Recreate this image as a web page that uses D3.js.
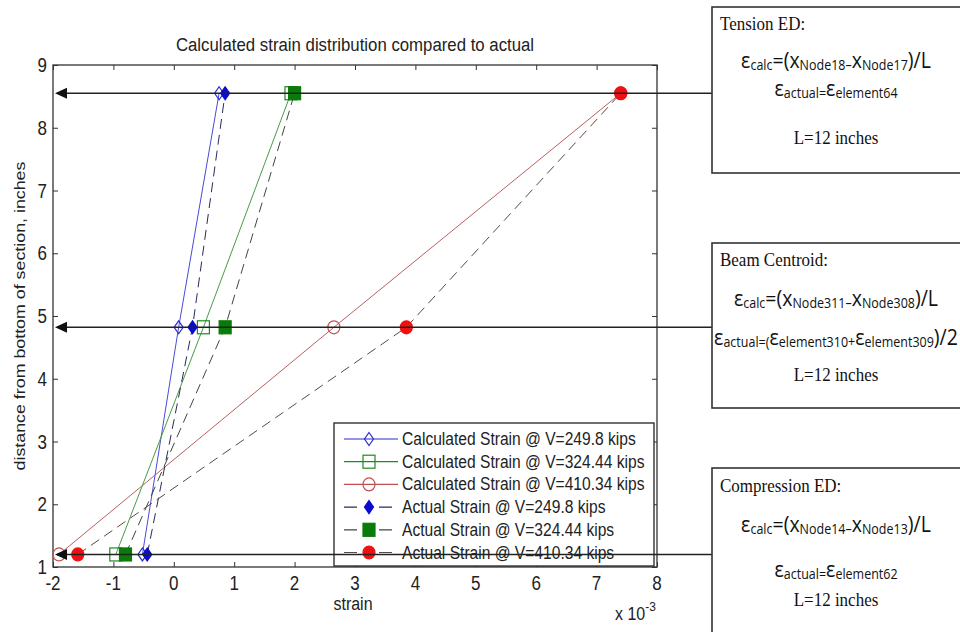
<!DOCTYPE html>
<html>
<head>
<meta charset="utf-8">
<script src="https://cdn.jsdelivr.net/npm/d3@7"></script>
<style>
  body { margin: 0; background: #fff; }
  svg { display: block; }
</style>
</head>
<body>
<div id="chart"></div>
<script>
// heights of the three gauge lines (inches from bottom of section)
var heights = [1.2, 4.82, 8.55];

// strain values, x 10^-3
var calc249 = [-0.52, 0.08, 0.75];
var calc324 = [-0.96, 0.49, 1.94];
var calc410 = [-1.9, 2.65, 7.40];
var act249 = [-0.44, 0.31, 0.85];
var act324 = [-0.80, 0.85, 2.00];
var act410 = [-1.59, 3.85, 7.40];

var seriesNames = [
  "Calculated Strain @ V=249.8 kips",
  "Calculated Strain @ V=324.44 kips",
  "Calculated Strain @ V=410.34 kips",
  "Actual Strain @ V=249.8 kips",
  "Actual Strain @ V=324.44 kips",
  "Actual Strain @ V=410.34 kips"
];

var xTicks = [-2, -1, 0, 1, 2, 3, 4, 5, 6, 7, 8];
var yTicks = [1, 2, 3, 4, 5, 6, 7, 8, 9];

var series = [
  {name: seriesNames[0], vals: calc249, color: "#2b2bd0", lineColor: "#4a4ad6", dash: null, shape: "diamond", filled: false},
  {name: seriesNames[1], vals: calc324, color: "#1f8a1f", lineColor: "#4a9a4a", dash: null, shape: "square", filled: false},
  {name: seriesNames[2], vals: calc410, color: "#c05050", lineColor: "#b86060", dash: null, shape: "circle", filled: false},
  {name: seriesNames[3], vals: act249, color: "#0a0ad0", lineColor: "#2a2a5a", dash: "10,6", shape: "diamond", filled: true},
  {name: seriesNames[4], vals: act324, color: "#0a7a0a", lineColor: "#3a4a3a", dash: "10,6", shape: "square", filled: true},
  {name: seriesNames[5], vals: act410, color: "#ee1111", lineColor: "#5a4848", dash: "10,6", shape: "circle", filled: true}
];

var W = 960, H = 632;
var plot = {left: 53, right: 657, top: 65, bottom: 567};
var SY = 1.2; // the picture is a bit taller than wide, text is stretched

var sansF = "Liberation Sans, Arial, sans-serif";

var svg = d3.select("#chart").append("svg")
    .attr("width", W)
    .attr("height", H);

// text with a vertical stretch
function stext(parent, x0, y0, sy) {
  return parent.append("text")
      .attr("transform", "translate(" + x0 + "," + y0 + ") scale(1," + sy + ")");
}

var x = d3.scaleLinear().domain([-2, 8]).range([plot.left, plot.right]);
var y = d3.scaleLinear().domain([1, 9]).range([plot.bottom, plot.top]);

// frame
svg.append("rect")
    .attr("x", plot.left).attr("y", plot.top)
    .attr("width", plot.right - plot.left).attr("height", plot.bottom - plot.top)
    .attr("fill", "#fff").attr("stroke", "#333").attr("stroke-width", 1.3);

// ticks inside on all four sides
var xAxisB = d3.axisBottom(x).tickValues(xTicks).tickSizeInner(-5).tickSizeOuter(0).tickFormat("");
var xAxisT = d3.axisTop(x).tickValues(xTicks).tickSizeInner(-5).tickSizeOuter(0).tickFormat("");
var yAxisL = d3.axisLeft(y).tickValues(yTicks).tickSizeInner(-5).tickSizeOuter(0).tickFormat("");
var yAxisR = d3.axisRight(y).tickValues(yTicks).tickSizeInner(-5).tickSizeOuter(0).tickFormat("");

function styleAxis(g) {
  g.select(".domain").remove();
  g.selectAll("line").attr("stroke", "#333");
}

svg.append("g").attr("transform", "translate(0," + plot.bottom + ")").call(xAxisB).call(styleAxis);
svg.append("g").attr("transform", "translate(0," + plot.top + ")").call(xAxisT).call(styleAxis);
svg.append("g").attr("transform", "translate(" + plot.left + ",0)").call(yAxisL).call(styleAxis);
svg.append("g").attr("transform", "translate(" + plot.right + ",0)").call(yAxisR).call(styleAxis);

// tick labels, stretched like the rest of the picture
xTicks.forEach(function (t) {
  stext(svg, x(t), 590, 1.15)
      .attr("text-anchor", "middle")
      .attr("font-family", sansF).attr("font-size", 17).attr("fill", "#222")
      .text(t);
});
yTicks.forEach(function (t) {
  stext(svg, 47, y(t) + 7, 1.15)
      .attr("text-anchor", "end")
      .attr("font-family", sansF).attr("font-size", 17).attr("fill", "#222")
      .text(t);
});

// labels
stext(svg, (plot.left + plot.right) / 2, 51, 1.1)
    .attr("text-anchor", "middle")
    .attr("font-family", sansF)
    .attr("font-size", 16.8).attr("fill", "#222")
    .text("Calculated strain distribution compared to actual");

stext(svg, 353, 610, 1.1)
    .attr("text-anchor", "middle")
    .attr("font-family", sansF)
    .attr("font-size", 16).attr("fill", "#222")
    .text("strain");

var mult = stext(svg, 615, 620, 1.1)
    .attr("font-family", sansF)
    .attr("font-size", 16).attr("fill", "#222");
mult.append("tspan").text("x 10");
mult.append("tspan").attr("dy", -8).attr("font-size", 12).text("-3");

svg.append("text")
    .attr("transform", "translate(25," + ((plot.top + plot.bottom) / 2) + ") rotate(-90) scale(1.15,1)")
    .attr("text-anchor", "middle")
    .attr("font-family", sansF)
    .attr("font-size", 15.5).attr("fill", "#222")
    .text("distance from bottom of section, inches");

// lines
var line = d3.line()
    .x(function (d) { return x(d[0]); })
    .y(function (d) { return y(d[1]); });

series.forEach(function (s) {
  var pts = s.vals.map(function (v, i) { return [v, heights[i]]; });
  svg.append("path")
      .attr("d", line(pts))
      .attr("fill", "none")
      .attr("stroke", s.lineColor)
      .attr("stroke-width", 1)
      .attr("stroke-dasharray", s.dash);
});

function marker(g, s, cx, cy) {
  var fill = s.filled ? s.color : "none";
  if (s.shape === "diamond") {
    g.append("path")
        .attr("d", "M" + cx + "," + (cy - 6.5) + "L" + (cx + 4.5) + "," + cy + "L" + cx + "," + (cy + 6.5) + "L" + (cx - 4.5) + "," + cy + "Z")
        .attr("fill", fill).attr("stroke", s.color).attr("stroke-width", 1.2);
  } else if (s.shape === "square") {
    g.append("rect")
        .attr("x", cx - 6).attr("y", cy - 6.5).attr("width", 12).attr("height", 13)
        .attr("fill", fill).attr("stroke", s.color).attr("stroke-width", 1.2);
  } else {
    g.append("ellipse")
        .attr("cx", cx).attr("cy", cy).attr("rx", 6).attr("ry", 6.5)
        .attr("fill", fill).attr("stroke", s.color).attr("stroke-width", 1.2);
  }
}

// legend
var leg = {x: 334, y: 423, w: 320, h: 143, row: 22.7};
svg.append("rect")
    .attr("x", leg.x).attr("y", leg.y).attr("width", leg.w).attr("height", leg.h)
    .attr("fill", "#fff").attr("stroke", "#222").attr("stroke-width", 1.3);

series.forEach(function (s, i) {
  var cy = leg.y + 16 + i * leg.row;
  var g = svg.append("g");
  g.append("line")
      .attr("x1", leg.x + 10).attr("x2", leg.x + 64)
      .attr("y1", cy).attr("y2", cy)
      .attr("stroke", s.dash ? s.lineColor : s.color)
      .attr("stroke-width", 1.2)
      .attr("stroke-dasharray", s.dash ? "13,22" : null);
  marker(g, s, leg.x + 35, cy);
  stext(g, leg.x + 68, cy + 6, SY)
      .attr("font-family", sansF)
      .attr("font-size", 15.6).attr("fill", "#222")
      .text(s.name);
});

// markers
series.forEach(function (s) {
  var g = svg.append("g");
  s.vals.forEach(function (v, i) { marker(g, s, x(v), y(heights[i])); });
});

// arrows from the note boxes
var boxLeft = 712;
heights.forEach(function (h) {
  var yy = y(h);
  svg.append("line")
      .attr("x1", x(-2) + 4).attr("x2", boxLeft)
      .attr("y1", yy).attr("y2", yy)
      .attr("stroke", "#222").attr("stroke-width", 1.6);
  svg.append("path")
      .attr("d", "M" + (x(-2) + 2) + "," + yy + "L" + (x(-2) + 14) + "," + (yy - 5.5) + "L" + (x(-2) + 14) + "," + (yy + 5.5) + "Z")
      .attr("fill", "#111");
});

// note boxes
var notes = [
  {top: 7, bottom: 173, title: "Tension ED:", ys: [30, 68, 96, 144],
   calc: ["Node18", "Node17"], actual: ["element64"]},
  {top: 243, bottom: 408, title: "Beam Centroid:", ys: [266, 306, 345, 381],
   calc: ["Node311", "Node308"], actual: ["element310", "element309"]},
  {top: 468, bottom: 640, title: "Compression ED:", ys: [492, 532, 577, 606],
   calc: ["Node14", "Node13"], actual: ["element62"]}
];

var serif = "Liberation Serif, Times New Roman, serif";
var sans = "Open Sans, Noto Sans, sans-serif";
var cx = 836;
var SB = 1.12;

function sub(t, s) {
  t.append("tspan").attr("font-size", 12.5).attr("dy", 2).text(s);
}
function big(t, s) {
  t.append("tspan").attr("font-size", 19.5).attr("dy", -2).text(s);
}

notes.forEach(function (n) {
  svg.append("rect")
      .attr("x", boxLeft).attr("y", n.top)
      .attr("width", 270).attr("height", n.bottom - n.top)
      .attr("fill", "#fff").attr("stroke", "#333").attr("stroke-width", 1.6);

  stext(svg, 720, n.ys[0], SB)
      .attr("font-family", serif).attr("font-size", 17).attr("fill", "#111")
      .text(n.title);

  var t1 = stext(svg, cx, n.ys[1], SB).attr("text-anchor", "middle")
      .attr("font-family", sans).attr("font-size", 19.5).attr("fill", "#111");
  t1.append("tspan").text("\u03b5");
  sub(t1, "calc");
  big(t1, "=(x");
  sub(t1, n.calc[0] + "\u2013");
  big(t1, "x");
  sub(t1, n.calc[1]);
  big(t1, ")/L");

  var t2 = stext(svg, cx, n.ys[2], SB).attr("text-anchor", "middle")
      .attr("font-family", sans).attr("font-size", 19.5).attr("fill", "#111");
  t2.append("tspan").text("\u03b5");
  if (n.actual.length === 1) {
    sub(t2, "actual=");
    big(t2, "\u03b5");
    sub(t2, n.actual[0]);
  } else {
    sub(t2, "actual=(");
    big(t2, "\u03b5");
    sub(t2, n.actual[0] + "+");
    big(t2, "\u03b5");
    sub(t2, n.actual[1]);
    big(t2, ")/2");
  }

  stext(svg, cx, n.ys[3], SB).attr("text-anchor", "middle")
      .attr("font-family", serif).attr("font-size", 17).attr("fill", "#111")
      .text("L=12 inches");
});
</script>
</body>
</html>
